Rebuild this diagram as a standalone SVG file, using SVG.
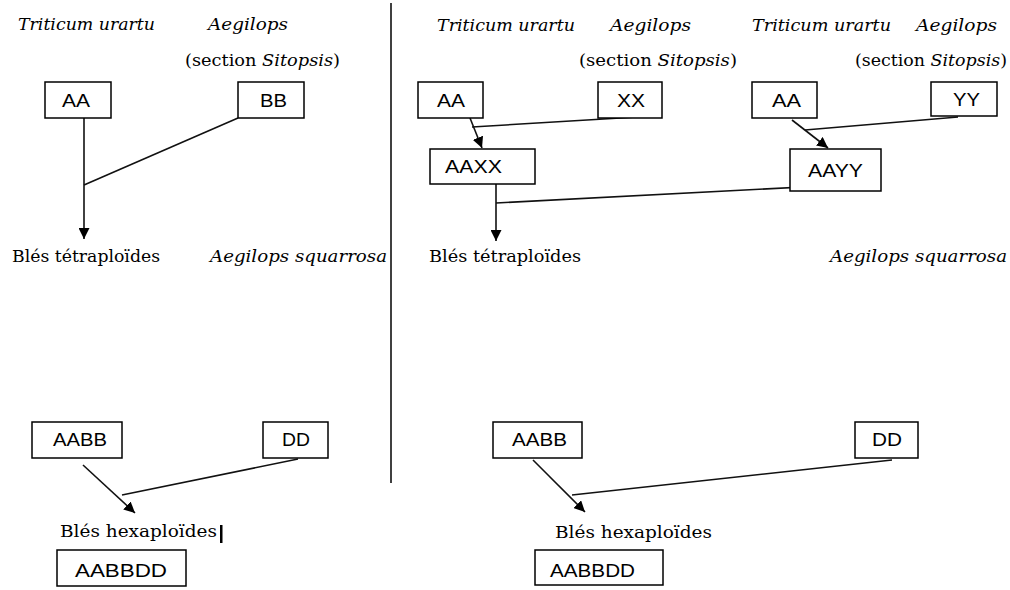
<svg xmlns="http://www.w3.org/2000/svg" width="1010" height="590" viewBox="0 0 1010 590">
  <style>
    .box rect { fill: #fff; stroke: #000; stroke-width: 1.5; }
    .box text { font-family: "Liberation Sans", Arial, sans-serif; font-size: 19px; fill: #000; }
    .lbl { font-family: "DejaVu Serif", "Liberation Serif", serif; font-size: 16px; fill: #000; }
    .it { font-style: italic; }
    .link { stroke: #111; stroke-width: 1.6; fill: none; }
    .arrow { marker-end: url(#head); }
  </style>
  <defs>
    <marker id="head" viewBox="0 0 10 10" refX="10" refY="5" markerWidth="11" markerHeight="11" markerUnits="userSpaceOnUse" orient="auto">
      <path d="M0,0 L10,5 L0,10 z" fill="#000"/>
    </marker>
  </defs>
  <rect width="1010" height="590" fill="#fff"/>

  <!-- divider between the two schemes -->
  <line x1="391" y1="3" x2="391" y2="483" stroke="#000" stroke-width="1.5"/>

  <!-- labels, left scheme -->
  <g id="labels-left">
    <text class="lbl it" x="18" y="30" textLength="137" lengthAdjust="spacingAndGlyphs">Triticum urartu</text>
    <text class="lbl it" x="208" y="30" textLength="80" lengthAdjust="spacingAndGlyphs">Aegilops</text>
    <text class="lbl" x="185" y="66" textLength="155" lengthAdjust="spacingAndGlyphs">(section <tspan class="it">Sitopsis</tspan>)</text>
    <text class="lbl" x="12" y="262" textLength="148" lengthAdjust="spacingAndGlyphs">Blés tétraploïdes</text>
    <text class="lbl it" x="210" y="262" textLength="177" lengthAdjust="spacingAndGlyphs">Aegilops squarrosa</text>
    <text class="lbl" x="60" y="537" textLength="157" lengthAdjust="spacingAndGlyphs">Blés hexaploïdes</text>
    <rect x="220" y="525" width="2.5" height="18" fill="#000"/>
  </g>

  <!-- labels, right scheme -->
  <g id="labels-right">
    <text class="lbl it" x="437" y="31" textLength="138" lengthAdjust="spacingAndGlyphs">Triticum urartu</text>
    <text class="lbl it" x="610" y="31" textLength="81" lengthAdjust="spacingAndGlyphs">Aegilops</text>
    <text class="lbl it" x="752" y="31" textLength="139" lengthAdjust="spacingAndGlyphs">Triticum urartu</text>
    <text class="lbl it" x="916" y="31" textLength="81" lengthAdjust="spacingAndGlyphs">Aegilops</text>
    <text class="lbl" x="579" y="66" textLength="158" lengthAdjust="spacingAndGlyphs">(section <tspan class="it">Sitopsis</tspan>)</text>
    <text class="lbl" x="855" y="66" textLength="152" lengthAdjust="spacingAndGlyphs">(section <tspan class="it">Sitopsis</tspan>)</text>
    <text class="lbl" x="429" y="262" textLength="152" lengthAdjust="spacingAndGlyphs">Blés tétraploïdes</text>
    <text class="lbl it" x="830" y="262" textLength="177" lengthAdjust="spacingAndGlyphs">Aegilops squarrosa</text>
    <text class="lbl" x="555" y="538" textLength="157" lengthAdjust="spacingAndGlyphs">Blés hexaploïdes</text>
  </g>

  <!-- connectors -->
  <g id="connectors">
    <!-- left scheme -->
    <line class="link arrow" x1="84" y1="118" x2="84" y2="239"/>
    <line class="link" x1="238" y1="118" x2="84" y2="185"/>
    <line class="link arrow" x1="83" y1="465" x2="135" y2="513"/>
    <line class="link" x1="298" y1="459" x2="122" y2="495"/>
    <!-- right scheme -->
    <line class="link arrow" x1="470" y1="118" x2="482" y2="148"/>
    <line class="link" x1="637" y1="117" x2="472" y2="127"/>
    <line class="link arrow" x1="792" y1="120" x2="828" y2="148"/>
    <line class="link" x1="958" y1="117" x2="805" y2="130"/>
    <line class="link arrow" x1="496" y1="184" x2="496" y2="241"/>
    <line class="link" x1="842" y1="185" x2="496" y2="203"/>
    <line class="link arrow" x1="533" y1="460" x2="585" y2="512"/>
    <line class="link" x1="892" y1="460" x2="572" y2="495"/>
  </g>

  <!-- left scheme nodes -->
  <g id="l-aa" class="box"><rect x="45" y="82" width="66" height="36"/><text x="62" y="107" textLength="28" lengthAdjust="spacingAndGlyphs">AA</text></g>
  <g id="l-bb" class="box"><rect x="238" y="82" width="66" height="36"/><text x="260" y="107" textLength="27" lengthAdjust="spacingAndGlyphs">BB</text></g>
  <g id="l-aabb" class="box"><rect x="32" y="422" width="90" height="36"/><text x="53" y="446" textLength="54" lengthAdjust="spacingAndGlyphs">AABB</text></g>
  <g id="l-dd" class="box"><rect x="263" y="422" width="65" height="36"/><text x="282" y="446" textLength="28" lengthAdjust="spacingAndGlyphs">DD</text></g>
  <g id="l-aabbdd" class="box"><rect x="57" y="550" width="129" height="36"/><text x="75" y="577" textLength="92" lengthAdjust="spacingAndGlyphs">AABBDD</text></g>

  <!-- right scheme nodes -->
  <g id="r-aa1" class="box"><rect x="418" y="82" width="65" height="36"/><text x="437" y="107" textLength="28" lengthAdjust="spacingAndGlyphs">AA</text></g>
  <g id="r-xx" class="box"><rect x="598" y="82" width="64" height="36"/><text x="617" y="107" textLength="28" lengthAdjust="spacingAndGlyphs">XX</text></g>
  <g id="r-aa2" class="box"><rect x="752" y="82" width="65" height="36"/><text x="772" y="107" textLength="29" lengthAdjust="spacingAndGlyphs">AA</text></g>
  <g id="r-yy" class="box"><rect x="931" y="82" width="66" height="34"/><text x="953" y="106" textLength="27" lengthAdjust="spacingAndGlyphs">YY</text></g>
  <g id="r-aaxx" class="box"><rect x="430" y="149" width="105" height="35"/><text x="445" y="173" textLength="57" lengthAdjust="spacingAndGlyphs">AAXX</text></g>
  <g id="r-aayy" class="box"><rect x="790" y="149" width="91" height="42"/><text x="808" y="177" textLength="55" lengthAdjust="spacingAndGlyphs">AAYY</text></g>
  <g id="r-aabb" class="box"><rect x="493" y="422" width="89" height="36"/><text x="512" y="446" textLength="55" lengthAdjust="spacingAndGlyphs">AABB</text></g>
  <g id="r-dd" class="box"><rect x="855" y="422" width="63" height="36"/><text x="872" y="446" textLength="30" lengthAdjust="spacingAndGlyphs">DD</text></g>
  <g id="r-aabbdd" class="box"><rect x="535" y="550" width="128" height="35"/><text x="550" y="577" textLength="85" lengthAdjust="spacingAndGlyphs">AABBDD</text></g>
</svg>
